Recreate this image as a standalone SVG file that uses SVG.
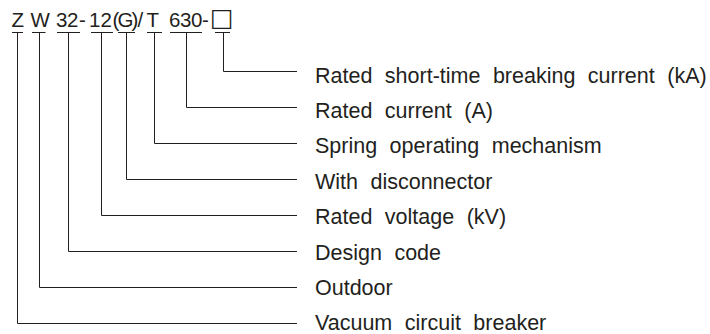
<svg xmlns="http://www.w3.org/2000/svg" width="710" height="334" viewBox="0 0 710 334">
<style>
.t{font-family:"Liberation Sans",Arial,sans-serif;fill:#231f20}
.lbl{font-size:21.5px;word-spacing:6.5px}
.code{font-size:20.5px}
.ln{fill:none;stroke:#231f20;stroke-width:1}
</style>
<rect width="710" height="334" fill="#fff"/>
<g id="code">
<text class="t code" y="27" x="11.5 30.5 56 67 79 89 100.5 112.5 117.5 131.5 137.5 146.5 169 180 191 202">ZW32-12(G)/T630-</text>
<text class="t" style="font-family:'DejaVu Sans',sans-serif;font-size:25px" x="210" y="25.5">□</text>
</g>
<g id="connectors" class="ln">
<path d="M12 32.5H23M32 32.5H45.5M57 32.5H80M91 32.5H113M118 32.5H135M147 32.5H162M170 32.5H202M215 32.5H230"/>
<polyline points="223.5,32.5 223.5,71.5 297,71.5"/>
<polyline points="186.5,32.5 186.5,107.5 297,107.5"/>
<polyline points="154.5,32.5 154.5,143.5 297,143.5"/>
<polyline points="126.5,32.5 126.5,179.5 297,179.5"/>
<polyline points="101.5,32.5 101.5,215.5 297,215.5"/>
<polyline points="68.5,32.5 68.5,251.5 297,251.5"/>
<polyline points="39.5,32.5 39.5,287.5 297,287.5"/>
<polyline points="17.5,32.5 17.5,323.5 297,323.5"/>
</g>
<g id="n-breaking"><text class="t lbl" x="315" y="82.5">Rated short-time breaking current (kA)</text></g>
<g id="n-current"><text class="t lbl" x="315" y="118">Rated current (A)</text></g>
<g id="n-spring"><text class="t lbl" x="315" y="153.3">Spring operating mechanism</text></g>
<g id="n-disconnector"><text class="t lbl" x="315" y="188.7">With disconnector</text></g>
<g id="n-voltage"><text class="t lbl" x="315" y="224.1">Rated voltage (kV)</text></g>
<g id="n-design"><text class="t lbl" x="315" y="259.5">Design code</text></g>
<g id="n-outdoor"><text class="t lbl" x="315" y="294.9">Outdoor</text></g>
<g id="n-vacuum"><text class="t lbl" x="315" y="330.3">Vacuum circuit breaker</text></g>
</svg>
